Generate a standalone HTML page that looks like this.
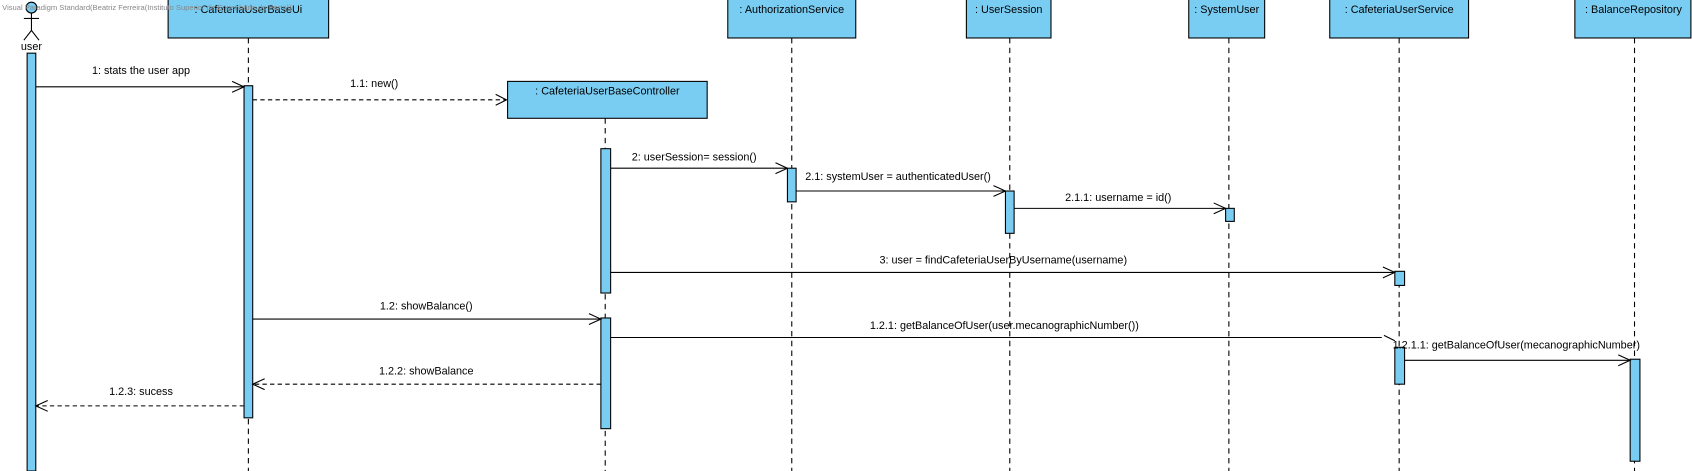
<!DOCTYPE html>
<html><head><meta charset="utf-8"><style>
html,body{margin:0;padding:0;background:#fff;overflow:hidden}
svg{display:block}
text{font-family:"Liberation Sans",Arial,sans-serif;font-size:10px;fill:#000}
.box{fill:#7acdf2;stroke:#000;stroke-width:1}
.act{fill:#7acdf2;stroke:#000;stroke-width:1}
.life{stroke:#000;stroke-width:1;stroke-dasharray:5,4}
.msg{stroke:#000;stroke-width:1;fill:none}
.dash{stroke:#000;stroke-width:1;fill:none;stroke-dasharray:4,3}
</style></head><body>
<svg width="1692" height="471" viewBox="0 0 1560 434" preserveAspectRatio="none">
<!-- lifelines -->
<line class="life" x1="229" y1="35" x2="229" y2="434"/>
<line class="life" x1="558" y1="109" x2="558" y2="434"/>
<line class="life" x1="730" y1="35" x2="730" y2="434"/>
<line class="life" x1="931" y1="35" x2="931" y2="434"/>
<line class="life" x1="1133" y1="35" x2="1133" y2="434"/>
<line class="life" x1="1290" y1="35" x2="1290" y2="434"/>
<line class="life" x1="1507" y1="35" x2="1507" y2="434"/>
<!-- boxes -->
<rect class="box" x="155" y="-1" width="148" height="36"/>
<text x="229" y="12" text-anchor="middle">: CafeteriaUserBaseUi</text>
<rect class="box" x="468" y="75" width="184" height="34"/>
<text x="560" y="87" text-anchor="middle">: CafeteriaUserBaseController</text>
<rect class="box" x="671" y="-1" width="118" height="36"/>
<text x="730" y="12" text-anchor="middle">: AuthorizationService</text>
<rect class="box" x="891" y="-1" width="78" height="36"/>
<text x="930" y="12" text-anchor="middle">: UserSession</text>
<rect class="box" x="1096" y="-1" width="70" height="36"/>
<text x="1131" y="12" text-anchor="middle">: SystemUser</text>
<rect class="box" x="1226" y="-1" width="128" height="36"/>
<text x="1290" y="12" text-anchor="middle">: CafeteriaUserService</text>
<rect class="box" x="1452" y="-1" width="107" height="36"/>
<text x="1506" y="12" text-anchor="middle">: BalanceRepository</text>
<!-- actor -->
<circle cx="29" cy="7" r="5" fill="#7acdf2" stroke="#000"/>
<line class="msg" x1="29" y1="12" x2="29" y2="28"/>
<line class="msg" x1="22" y1="17" x2="36" y2="17"/>
<polyline class="msg" points="22,37 29,28 36,37"/>
<text x="29" y="46" text-anchor="middle">user</text>
<text x="2" y="9" style="font-size:7px;fill:#888">Visual Paradigm Standard(Beatriz Ferreira(Instituto Superior de Engenharia do Porto))</text>
<!-- activations -->
<rect class="act" x="25" y="49" width="8" height="385"/>
<rect class="act" x="225" y="79" width="8" height="306"/>
<rect class="act" x="554" y="137" width="9" height="133"/>
<rect class="act" x="554" y="293" width="9" height="102"/>
<rect class="act" x="726" y="155" width="8" height="31"/>
<rect class="act" x="927" y="176" width="8" height="39"/>
<rect class="act" x="1130" y="192" width="8" height="12"/>
<rect class="act" x="1286" y="250" width="9" height="13"/>
<rect class="act" x="1286" y="320" width="9" height="34"/>
<rect class="act" x="1503" y="331" width="9" height="94"/>
<!-- messages -->
<line class="msg" x1="33" y1="80" x2="225" y2="80"/><polyline class="msg" points="214,75 225,80 214,85"/>
<text x="130" y="68" text-anchor="middle">1: stats the user app</text>
<line class="dash" x1="233" y1="92" x2="467" y2="92"/><polyline class="msg" points="457,87 467,92 457,97"/>
<text x="345" y="80" text-anchor="middle">1.1: new()</text>
<line class="msg" x1="563" y1="155" x2="726" y2="155"/><polyline class="msg" points="715,150 726,155 715,160"/>
<text x="640" y="148" text-anchor="middle">2: userSession= session()</text>
<line class="msg" x1="734" y1="176" x2="927" y2="176"/><polyline class="msg" points="916,171 927,176 916,181"/>
<text x="828" y="166" text-anchor="middle">2.1: systemUser = authenticatedUser()</text>
<line class="msg" x1="935" y1="192" x2="1130" y2="192"/><polyline class="msg" points="1119,187 1130,192 1119,197"/>
<text x="1031" y="185" text-anchor="middle">2.1.1: username = id()</text>
<line class="msg" x1="563" y1="251" x2="1286" y2="251"/><polyline class="msg" points="1275,246 1286,251 1275,256"/>
<text x="925" y="243" text-anchor="middle">3: user = findCafeteriaUserByUsername(username)</text>
<line class="msg" x1="233" y1="294" x2="554" y2="294"/><polyline class="msg" points="543,289 554,294 543,299"/>
<text x="393" y="285" text-anchor="middle">1.2: showBalance()</text>
<line class="msg" x1="563" y1="311" x2="1274" y2="311"/><line class="msg" x1="1276" y1="309" x2="1286" y2="314"/>
<text x="926" y="303" text-anchor="middle">1.2.1: getBalanceOfUser(user.mecanographicNumber())</text>
<line class="msg" x1="1295" y1="332" x2="1503" y2="332"/><polyline class="msg" points="1492,327 1503,332 1492,337"/>
<text x="1398" y="321" text-anchor="middle">1.2.1.1: getBalanceOfUser(mecanographicNumber)</text>
<line class="dash" x1="554" y1="354" x2="233" y2="354"/><polyline class="msg" points="244,349 233,354 244,359"/>
<text x="393" y="345" text-anchor="middle">1.2.2: showBalance</text>
<line class="dash" x1="225" y1="374" x2="33" y2="374"/><polyline class="msg" points="44,369 33,374 44,379"/>
<text x="130" y="364" text-anchor="middle">1.2.3: sucess</text>
</svg>
</body></html>
